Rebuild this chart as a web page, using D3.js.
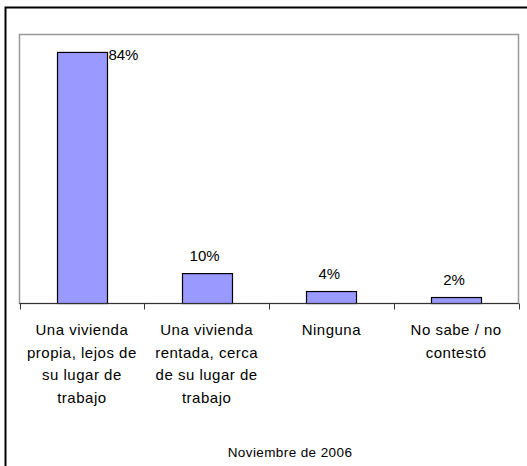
<!DOCTYPE html>
<html>
<head>
<meta charset="utf-8">
<script src="https://cdn.jsdelivr.net/npm/d3@7"></script>
<style>
  body { margin: 0; background: #fff; }
  svg text { font-family: "Liberation Sans", Arial, sans-serif; fill: #000; }
</style>
</head>
<body>
<div id="chart"></div>
<script>
var categories = [
  ["Una vivienda", "propia, lejos de", "su lugar de", "trabajo"],
  ["Una vivienda", "rentada, cerca", "de su lugar de", "trabajo"],
  ["Ninguna"],
  ["No sabe / no", "contestó"]
]
var values = [84, 10, 4, 2]
var value_labels = ["84%", "10%", "4%", "2%"]
var note = "Noviembre de 2006"

var WIDTH = 527, HEIGHT = 466
var PLOT = {LEFT: 19.5, TOP: 34.5, RIGHT: 518.5, BOTTOM: 303.5}

var svg = d3.select("#chart").append("svg")
  .attr("width", WIDTH)
  .attr("height", HEIGHT)

// outer frame, runs off the right and bottom edges
svg.append("rect")
  .attr("x", 5.5).attr("y", 7.5)
  .attr("width", 540).attr("height", 480)
  .attr("fill", "none")
  .attr("stroke", "#000")
  .attr("stroke-width", 2)

// plot area
svg.append("rect")
  .attr("x", PLOT.LEFT).attr("y", PLOT.TOP)
  .attr("width", PLOT.RIGHT - PLOT.LEFT)
  .attr("height", PLOT.BOTTOM - PLOT.TOP)
  .attr("fill", "#fff")
  .attr("stroke", "#999")
  .attr("stroke-width", 1.5)

var x = d3.scaleBand()
  .domain(d3.range(values.length))
  .range([PLOT.LEFT, PLOT.RIGHT])
  .paddingInner(0)

var y = d3.scaleLinear()
  .domain([0, 90])
  .range([PLOT.BOTTOM, PLOT.TOP])

var BAR_W = 50

svg.selectAll(".bar")
  .data(values)
  .enter()
  .append("rect")
  .attr("class", "bar")
  .attr("x", function(d, i){ return Math.round(x(i) + x.bandwidth() / 2 - BAR_W / 2) + 0.5 })
  .attr("y", function(d){ return y(d) })
  .attr("width", BAR_W)
  .attr("height", function(d){ return y(0) - y(d) })
  .attr("fill", "#9999ff")
  .attr("stroke", "#000")
  .attr("stroke-width", 1.2)

// value labels: above the bar, or beside it when there is no room
svg.selectAll(".vlabel")
  .data(values)
  .enter()
  .append("text")
  .attr("class", "vlabel")
  .style("font-size", "15px")
  .each(function(d, i){
    var top = y(d)
    var t = d3.select(this).text(value_labels[i])
    if (top - 24 < PLOT.TOP) {
      t.attr("x", x(i) + x.bandwidth() / 2 + BAR_W / 2 + 1.5)
       .attr("y", top + 8)
       .attr("text-anchor", "start")
    } else {
      t.attr("x", x(i) + x.bandwidth() / 2 - 2)
       .attr("y", top - 12.5)
       .attr("text-anchor", "middle")
    }
  })

// category axis
var axis = svg.append("g")
  .attr("transform", "translate(0," + PLOT.BOTTOM + ")")

axis.append("line")
  .attr("x1", PLOT.LEFT).attr("x2", PLOT.RIGHT)
  .attr("y1", 0).attr("y2", 0)
  .attr("stroke", "#333")
  .attr("stroke-width", 1.2)

var tick_pos = d3.range(values.length).map(function(i){ return x(i) }).concat([PLOT.RIGHT])
axis.selectAll(".tick")
  .data(tick_pos)
  .enter()
  .append("line")
  .attr("x1", function(d){ return Math.round(d) + 0.5 })
  .attr("x2", function(d){ return Math.round(d) + 0.5 })
  .attr("y1", 0).attr("y2", 6)
  .attr("stroke", "#333")

var cat = svg.selectAll(".cat")
  .data(categories)
  .enter()
  .append("text")
  .attr("class", "cat")
  .attr("text-anchor", "middle")
  .style("font-size", "15px")
  .style("letter-spacing", "0.5px")

cat.selectAll("tspan")
  .data(function(d, i){ return d.map(function(s){ return {s: s, i: i} }) })
  .enter()
  .append("tspan")
  .attr("x", function(d){ return x(d.i) + x.bandwidth() / 2 })
  .attr("y", function(d, j){ return 335 + j * 22.7 })
  .text(function(d){ return d.s })

svg.append("text")
  .attr("x", 290)
  .attr("y", 457)
  .attr("text-anchor", "middle")
  .style("font-size", "13.5px")
  .style("letter-spacing", "0.4px")
  .text(note)
</script>
</body>
</html>
